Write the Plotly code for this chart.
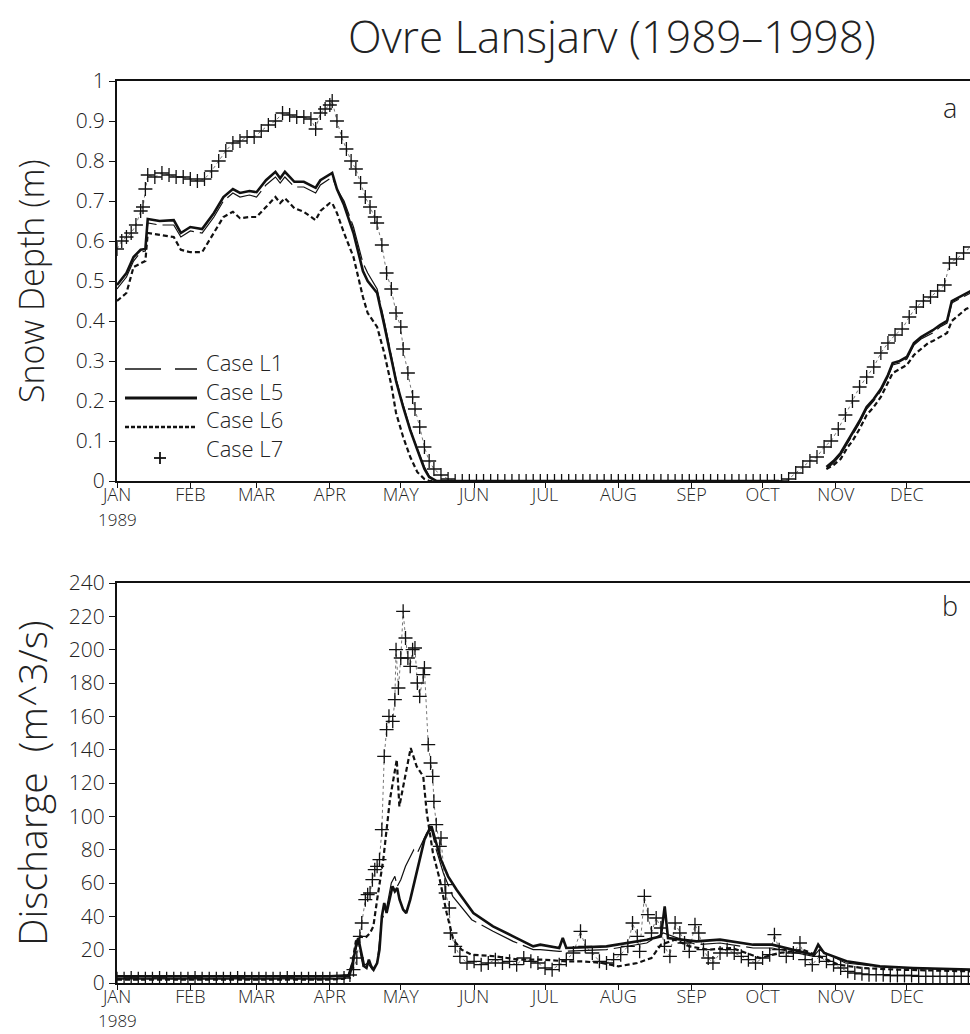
import plotly.graph_objects as go

# ---------------- data ----------------
MONTH_DAYS = [0, 31, 59, 90, 120, 151, 181, 212, 243, 273, 304, 334]
MONTH_LABELS = ["JAN", "FEB", "MAR", "APR", "MAY", "JUN", "JUL", "AUG", "SEP", "OCT", "NOV", "DEC"]
YEAR_LABEL = "1989"
SNOW_TICKS = [0, 0.1, 0.2, 0.3, 0.4, 0.5, 0.6, 0.7, 0.8, 0.9, 1]
SNOW_TICK_TEXT = ["0", "0.1", "0.2", "0.3", "0.4", "0.5", "0.6", "0.7", "0.8", "0.9", "1"]
Q_TICKS = [0, 20, 40, 60, 80, 100, 120, 140, 160, 180, 200, 220, 240]
CASE_NAMES = ["Case L1", "Case L5", "Case L6", "Case L7"]

# snow depth (m) - cases L1, L5, L6 share days
snow_days = [0, 4, 7, 10, 12, 13, 18, 24, 27, 31, 36, 41, 45, 49, 52, 56, 59, 63, 67, 69,
             71, 75, 79, 84, 86, 90, 91, 93, 96, 100, 104, 106, 110, 113, 116, 118, 121, 124, 127, 130,
             132, 135, 140, 150, 170, 200, 230, 260, 280, 298, 300, 303, 306, 309, 311, 314, 317, 320, 323, 326,
             328, 331, 334, 337, 340, 343, 345, 348, 351, 353, 356, 359, 361]
snow_L5 = [0.49, 0.52, 0.56, 0.578, 0.58, 0.655, 0.65, 0.652, 0.62, 0.635,
           0.63, 0.67, 0.71, 0.73, 0.72, 0.725, 0.722, 0.752, 0.773, 0.757,
           0.773, 0.748, 0.748, 0.733, 0.752, 0.765, 0.77, 0.73, 0.69, 0.62,
           0.525, 0.50, 0.47, 0.39, 0.31, 0.25, 0.185, 0.127, 0.078, 0.03,
           0.01, 0, 0, 0, 0, 0, 0, 0, 0, None,
           0.035, 0.05, 0.07, 0.10, 0.12, 0.15, 0.185, 0.205, 0.23, 0.265,
           0.295, 0.30, 0.31, 0.345, 0.36, 0.37, 0.377, 0.39, 0.40, 0.45,
           0.46, 0.47, 0.475]
snow_L1 = [0.48, 0.51, 0.55, 0.572, 0.575, 0.645, 0.64, 0.64, 0.61, 0.625,
           0.62, 0.66, 0.70, 0.72, 0.71, 0.715, 0.71, 0.74, 0.76, 0.745,
           0.76, 0.735, 0.735, 0.72, 0.74, 0.755, 0.76, 0.73, 0.70, 0.635,
           0.545, 0.52, 0.48, 0.40, 0.31, 0.255, 0.19, 0.13, 0.08, 0.035,
           0.012, 0, 0, 0, 0, 0, 0, 0, 0, None,
           0.03, 0.045, 0.065, 0.095, 0.115, 0.145, 0.18, 0.20, 0.225, 0.26,
           0.29, 0.295, 0.305, 0.34, 0.355, 0.365, 0.37, 0.385, 0.395, 0.445,
           0.455, 0.465, 0.47]
snow_L6 = [0.45, 0.47, 0.535, 0.545, 0.55, 0.62, 0.615, 0.61, 0.578, 0.572,
           0.572, 0.62, 0.66, 0.673, 0.657, 0.66, 0.66, 0.685, 0.71, 0.695,
           0.707, 0.682, 0.673, 0.652, 0.675, 0.695, 0.695, 0.67, 0.62, 0.56,
           0.46, 0.42, 0.385, 0.32, 0.24, 0.17, 0.11, 0.06, 0.022, 0.005,
           0, 0, 0, 0, 0, 0, 0, 0, 0, None,
           0.03, 0.04, 0.055, 0.085, 0.10, 0.13, 0.165, 0.185, 0.21, 0.245,
           0.27, 0.28, 0.29, 0.315, 0.33, 0.345, 0.35, 0.36, 0.37, 0.40,
           0.415, 0.43, 0.435]

# snow depth (m) - case L7
snow_days_L7 = [0, 2, 4, 6, 8, 10, 11, 12, 13, 16, 19, 22, 25, 28, 31, 34, 37, 40, 43, 46,
                49, 52, 55, 58, 61, 64, 67, 70, 73, 76, 79, 82, 84, 86, 88, 90, 91, 93, 95, 97,
                99, 101, 103, 105, 107, 109, 110, 112, 114, 116, 118, 120, 121, 123, 125, 126, 128, 130, 132, 134,
                137, 140,
                143, 146, 149, 152, 155, 158, 161, 164, 167, 170, 173, 176, 179, 182, 185, 188, 191, 194,
                197, 200, 203, 206, 209, 212, 215, 218, 221, 224, 227, 230, 233, 236, 239, 242, 245, 248,
                251, 254, 257, 260, 263, 266, 269, 272, 275, 278, 281,
                284, 287, 290, 293, 296, 299, 302, 305, 308, 311, 314, 317, 320, 323, 326, 329, 332, 335,
                338, 341, 344, 347, 350, 352, 355, 358, 361]
snow_L7 = [0.58, 0.60, 0.61, 0.62, 0.64, 0.675, 0.685, 0.73, 0.765, 0.76,
           0.77, 0.765, 0.76, 0.76, 0.755, 0.75, 0.755, 0.775, 0.80, 0.825,
           0.845, 0.85, 0.86, 0.86, 0.875, 0.89, 0.90, 0.92, 0.915, 0.91,
           0.91, 0.905, 0.88, 0.92, 0.93, 0.94, 0.95, 0.90, 0.86, 0.83,
           0.80, 0.78, 0.745, 0.71, 0.685, 0.66, 0.645, 0.59, 0.52, 0.48,
           0.42, 0.385, 0.33, 0.27, 0.21, 0.18, 0.135, 0.085, 0.05, 0.03,
           0.015, 0.005,
           0, 0, 0, 0, 0, 0, 0, 0, 0, 0, 0, 0, 0, 0, 0, 0, 0, 0,
           0, 0, 0, 0, 0, 0, 0, 0, 0, 0, 0, 0, 0, 0, 0, 0, 0, 0,
           0, 0, 0, 0, 0, 0, 0, 0, 0, 0, 0,
           0.005, 0.02, 0.035, 0.05, 0.06, 0.085, 0.10, 0.13, 0.165, 0.20, 0.235, 0.26, 0.285, 0.32,
           0.345, 0.365, 0.38, 0.41, 0.435, 0.45, 0.46, 0.475, 0.49, 0.545, 0.555, 0.57, 0.585]

# discharge (m^3/s)
q_days_L5 = [0, 30, 60, 90, 96, 98, 99.5, 101, 102, 103,
             104.5, 105.5, 106.5, 107.5, 108.5, 110, 111, 112, 113, 114,
             115.5, 116.5, 117.5, 118.5, 119.5, 121, 122.3, 124, 126, 128,
             130, 132, 133, 135, 137, 140, 143.6, 150.7, 159, 167.5,
             176, 179, 187, 188.5, 190, 207, 224, 230, 231.6, 233,
             245, 255, 269, 277, 294.5, 296.5, 299, 308.5, 322.6, 336.7,
             350, 361]
q_L5 = [4, 4, 4, 4, 4.5, 4, 10, 22, 27, 20,
        10, 9, 14, 10, 8, 12, 20, 40, 48, 42,
        52, 58, 55, 57, 50, 44, 42, 50, 62, 74,
        86, 92, 94, 84, 74, 64, 56, 42, 34, 28,
        22, 23, 21, 27, 21, 22, 26, 28, 46, 27,
        25, 26, 23, 23, 17, 23, 18, 13, 10, 9,
        8.5, 8]

q_days_L1 = [0, 30, 60, 90, 96, 98, 101, 102, 104, 106,
             108, 110, 112, 114, 116, 117.5, 118.5, 120, 122, 124,
             125.5, 127, 129, 131, 133, 135, 138, 142, 150, 159,
             167.5, 176, 179, 187, 207, 224, 231, 245, 255, 269,
             277, 294.5, 297, 308, 322, 336, 361]
q_L1 = [4, 4, 4, 4, 4.5, 5, 20, 25, 10, 12,
        8, 12, 38, 45, 60, 64, 58, 62, 70, 76,
        80, 78, 84, 90, 92, 80, 66, 52, 38, 31,
        25, 20, 20, 19, 20, 24, 30, 23, 24, 21,
        21, 16, 20, 12, 10, 9, 8]

q_days_L6 = [0, 30, 60, 90, 96, 98, 99.5, 101, 103, 105,
             107, 108.4, 110, 112.6, 115.4, 117.5, 118.3, 119.4, 121, 124.2,
             126.7, 129.5, 131, 133.6, 136.5, 139.4, 142.2, 145.7, 150, 160,
             170, 180, 190, 197, 205, 212, 220, 226, 230, 236,
             242, 250, 260, 272, 280, 290, 297, 305, 315, 330,
             345, 361]
q_L6 = [2, 2, 2, 2, 2.5, 5, 12, 25, 28, 27,
        30, 34, 50, 74, 110, 128, 134, 106, 118, 141,
        130, 124, 102, 78, 62, 42, 26, 20, 17, 16,
        14, 14, 13, 13, 12, 10, 12, 15, 23, 26,
        22, 20, 21, 15, 18, 20, 16, 11, 9, 8,
        7.5, 7]

q_days_L7 = [0, 3, 6, 9, 12, 15, 18, 21, 24, 27, 30, 33, 36, 39, 42, 45, 48, 51, 54, 57,
             60, 63, 66, 69, 72, 75, 78, 81, 84, 87, 90, 93,
             96, 98.5, 100, 101.4, 102.7, 103.5, 105, 106, 107, 108,
             109, 110, 111, 112, 113, 114, 115, 116.6, 117.5, 118,
             119, 120, 121, 122, 123, 124, 125, 126, 127, 128,
             129.5, 130, 131.6, 132.6, 133.5, 134, 135, 136.5, 137, 138.7,
             139, 140.5, 141, 143, 145,
             148, 151, 154, 157, 160, 163, 166, 169, 172, 175, 178, 181, 184, 187, 190, 193,
             196, 198, 201, 204, 207, 210, 213, 216, 218, 220, 221, 223, 224.5, 226, 228, 230,
             231.5, 233.8, 236, 238, 240, 242, 244.4, 246, 248, 250, 252, 255, 258, 261, 264, 267,
             270, 273, 276, 278, 280, 283, 286, 288.8, 291, 294, 297, 300, 303, 306, 309, 312,
             315, 318, 321, 324, 327, 330, 333, 336, 339, 342, 345, 348, 351, 354, 357, 360]
q_L7 = [2.5, 2.5, 3, 2.5, 2.5, 2.5, 3, 2.5, 2.5, 2.5, 2.5, 3, 2.5, 2.5, 2.5, 2.5, 2.5, 3, 2.5, 2.5,
        2.5, 2.5, 2.5, 2.5, 3, 2.5, 2.5, 2.5, 2.5, 2.5, 2.5, 2.5,
        3, 4.8, 8, 15, 28, 36, 50, 53, 54, 62,
        68, 70, 74, 92, 136, 152, 160, 157, 170, 200,
        177, 195, 223, 207, 195, 190, 200, 201, 180, 172,
        185, 189, 143, 132, 124, 109, 95, 82, 87, 59,
        54, 45, 30, 22, 16,
        12, 13, 11, 12, 14, 12, 13, 11, 15, 13, 12, 9, 8, 11, 14, 18,
        31, 22, 18, 13, 12, 14, 17, 22, 36, 28, 19, 52, 41, 30, 39, 33,
        22, 16, 36, 30, 24, 19, 35, 30, 20, 15, 12, 18, 20, 18, 16, 14,
        12, 15, 17, 29, 20, 16, 18, 24, 14, 11, 16, 13, 11, 9, 7, 6,
        5.5, 5, 5, 5, 4.5, 4.5, 4.5, 4.5, 4, 4, 4, 4, 4, 4, 4, 4]

# ---------------- figure ----------------
FONT = "Open Sans, DejaVu Sans, sans-serif"
INK = "#111111"
TXT = "#222222"
W, H = 970, 1034

def py(pix):  # pixel-from-top to paper y
    return (H - pix) / H

def px(pix):
    return pix / W

fig = go.Figure()

line_L1 = dict(color=INK, width=1.2, dash="40px,6px")
line_L5 = dict(color=INK, width=2.6)
line_L6 = dict(color=INK, width=2.2, dash="5px,3px")
line_L7 = dict(color="#777777", width=1, dash="dot")
mk_L7 = dict(symbol="cross-thin", size=10, color=INK, line=dict(color=INK, width=1.3))

for xa, ya, d1, y1, d5, y5, d6, y6, d7, y7 in [
    ("x", "y", snow_days, snow_L1, snow_days, snow_L5, snow_days, snow_L6, snow_days_L7, snow_L7),
    ("x2", "y2", q_days_L1, q_L1, q_days_L5, q_L5, q_days_L6, q_L6, q_days_L7, q_L7),
]:
    fig.add_trace(go.Scatter(x=d7, y=y7, mode="lines+markers", line=line_L7, marker=mk_L7,
                             xaxis=xa, yaxis=ya, showlegend=False, name=CASE_NAMES[3]))
    fig.add_trace(go.Scatter(x=d6, y=y6, mode="lines", line=line_L6, xaxis=xa, yaxis=ya,
                             showlegend=False, name=CASE_NAMES[2], connectgaps=False))
    fig.add_trace(go.Scatter(x=d1, y=y1, mode="lines", line=line_L1, xaxis=xa, yaxis=ya,
                             showlegend=False, name=CASE_NAMES[0], connectgaps=False))
    fig.add_trace(go.Scatter(x=d5, y=y5, mode="lines", line=line_L5, xaxis=xa, yaxis=ya,
                             showlegend=False, name=CASE_NAMES[1], connectgaps=False))

ytickfont = dict(family=FONT, size=21, color=TXT, weight=300)
xtickfont = dict(family=FONT, size=18, color=TXT, weight=300)
xcommon = dict(range=[0, 360.7], tickmode="array", tickvals=MONTH_DAYS, ticktext=MONTH_LABELS,
               ticks="outside", ticklen=5, tickwidth=1.3, tickcolor=INK,
               showline=True, linecolor=INK, linewidth=2, mirror=True,
               showgrid=False, zeroline=False, tickfont=xtickfont, automargin=False,
               ticklabelstandoff=-9, domain=[px(117), 1])
ycommon = dict(ticks="outside", ticklen=6, tickwidth=1.3, tickcolor=INK,
               showline=True, linecolor=INK, linewidth=2, mirror=False,
               showgrid=False, zeroline=False, tickfont=ytickfont, automargin=False)

fig.update_layout(
    width=W, height=H, margin=dict(l=0, r=0, t=0, b=0, autoexpand=False),
    paper_bgcolor="white", plot_bgcolor="white",
    xaxis=dict(xcommon, anchor="y"),
    yaxis=dict(ycommon, range=[0, 1], tickvals=SNOW_TICKS, ticktext=SNOW_TICK_TEXT,
               domain=[py(481), py(81)], anchor="x"),
    xaxis2=dict(xcommon, anchor="y2"),
    yaxis2=dict(ycommon, range=[0, 240], tickvals=Q_TICKS,
                domain=[py(983), py(583)], anchor="x2"),
)

def note(text, x, y, size, **kw):
    d = dict(text=text, x=px(x), y=py(y), xref="paper", yref="paper", showarrow=False,
             xanchor="center", yanchor="middle",
             font=dict(family=FONT, size=size, color=TXT, weight=300))
    d.update(kw)
    return d

ann = [
    note("Ovre Lansjarv (1989\u20131998)", 612, 36, 44),
    note("Snow Depth (m)", 31, 281, 34, textangle=-90),
    note("Discharge  (m^3/s)", 31, 783, 39, textangle=-90),
    note("a", 950, 107, 27),
    note("b", 950, 605, 27),
    note("<br>".join(CASE_NAMES), 204, 405, 22, xanchor="left", align="left"),
    note(YEAR_LABEL, 117, 507, 17, yanchor="top", borderpad=0),
    note(YEAR_LABEL, 117, 1008, 17, yanchor="top", borderpad=0),
]
fig.update_layout(annotations=ann)

shapes = [
    dict(type="line", xref="paper", yref="paper", x0=px(125), x1=px(161), y0=py(369), y1=py(369),
         line=dict(color=INK, width=1.5)),
    dict(type="line", xref="paper", yref="paper", x0=px(175), x1=px(197), y0=py(369), y1=py(369),
         line=dict(color=INK, width=1.5)),
    dict(type="line", xref="paper", yref="paper", x0=px(125), x1=px(197), y0=py(398), y1=py(398),
         line=dict(color=INK, width=2.8)),
    dict(type="line", xref="paper", yref="paper", x0=px(125), x1=px(197), y0=py(427), y1=py(427),
         line=dict(color=INK, width=2.4, dash="4px,2px")),
    dict(type="line", xref="paper", yref="paper", x0=px(154), x1=px(166), y0=py(458), y1=py(458),
         line=dict(color=INK, width=1.8)),
    dict(type="line", xref="paper", yref="paper", x0=px(160), x1=px(160), y0=py(452), y1=py(464),
         line=dict(color=INK, width=1.8)),
]
fig.update_layout(shapes=shapes)

fig.write_html("out.html")
